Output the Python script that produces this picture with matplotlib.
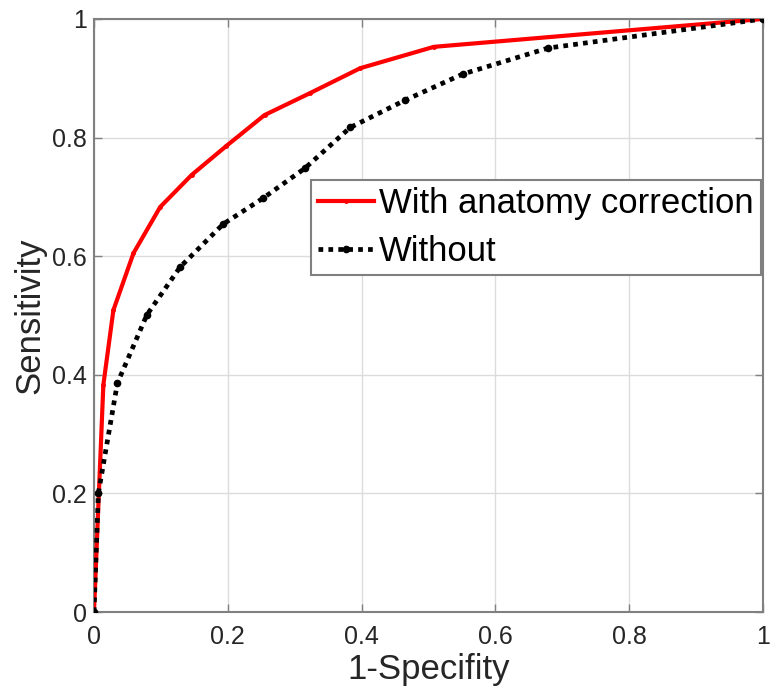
import numpy as np
import matplotlib
matplotlib.use("Agg")
import matplotlib.pyplot as plt

plt.rcParams['font.family'] = ['Liberation Sans', 'DejaVu Sans']

# ROC points
fpr_with = [0.0, 0.014, 0.029, 0.059, 0.099, 0.146, 0.198, 0.255, 0.323, 0.398, 0.508, 1.0]
tpr_with = [0.0, 0.383, 0.509, 0.605, 0.683, 0.737, 0.786, 0.838, 0.875, 0.917, 0.953, 1.0]

fpr_without = [0.0, 0.0065, 0.035, 0.079, 0.129, 0.193, 0.253, 0.315, 0.383, 0.465, 0.551, 0.679, 1.0]
tpr_without = [0.0, 0.200, 0.386, 0.501, 0.582, 0.654, 0.698, 0.748, 0.817, 0.863, 0.907, 0.951, 1.0]

ticks = [0, 0.2, 0.4, 0.6, 0.8, 1]
tick_labels = ["0", "0.2", "0.4", "0.6", "0.8", "1"]

fig = plt.figure(figsize=(7.71, 7.00), dpi=100)
ax = fig.add_axes([0.1219, 0.1257, 0.8677, 0.8472])

ax.plot(fpr_with, tpr_with, color="red", linewidth=3, marker=".", markersize=5,
        label="With anatomy correction", zorder=3)
ax.plot(fpr_without, tpr_without, color="black", linewidth=3.4, linestyle=(0, (1, 1.1)),
        marker=".", markersize=9, label="Without", zorder=4)

ax.set_xlim(0, 1)
ax.set_ylim(0, 1)
ax.set_xticks(ticks)
ax.set_xticklabels(tick_labels)
ax.set_yticks(ticks)
ax.set_yticklabels(tick_labels)
ax.grid(True, color="#dcdcdc", linewidth=1)
ax.set_axisbelow(True)
ax.tick_params(direction="in", top=True, right=True, length=6, width=1,
               color="#808080", labelsize=18, labelcolor="#262626")
ax.tick_params(axis="x", pad=9)
ax.tick_params(axis="y", pad=5)
for s in ax.spines.values():
    s.set_color("#808080")
    s.set_linewidth(1.5)

ax.set_xlabel("1-Specifity", fontsize=25, color="#262626", labelpad=3)
ax.set_ylabel("Sensitivity", fontsize=25, color="#262626", labelpad=4)

leg = ax.legend(loc="upper left", bbox_to_anchor=(0.325, 0.728), borderaxespad=0,
                fontsize=25, fancybox=False, edgecolor="#808080", framealpha=1,
                handlelength=1.6, handletextpad=0.15, borderpad=0.2, labelspacing=0.42)
leg.get_frame().set_linewidth(1.5)

plt.savefig("out.png", dpi=100)
